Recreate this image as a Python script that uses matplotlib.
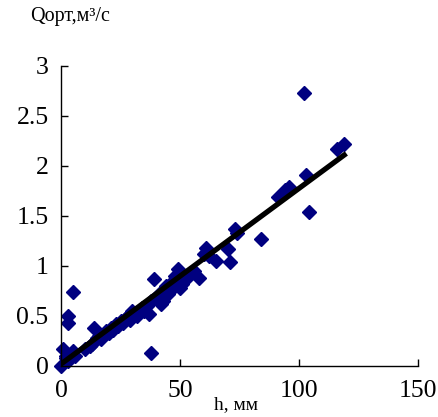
import matplotlib
matplotlib.use('Agg')
import matplotlib.pyplot as plt

# measured points: h (mm) vs Q (m3/s)
h_mm = [0, 1, 2, 2, 3, 4, 5, 6, 3, 3, 5,
        10, 12, 13, 14, 15, 16, 17, 18, 19, 20, 21, 22, 23, 24, 25, 26, 27,
        28, 29, 30, 31, 32, 33, 34, 35, 36, 37, 38, 38, 39, 40, 41, 42, 43,
        44, 45, 46, 47, 48, 49, 50, 51, 53, 56, 58, 60, 61, 62, 65, 70, 71,
        73, 74, 84, 91, 94, 96, 102, 103, 104, 116, 119]
q_m3s = [0.0, 0.17, 0.10, 0.08, 0.05, 0.12, 0.15, 0.10, 0.43, 0.50, 0.74,
         0.17, 0.20, 0.22, 0.38, 0.28, 0.30, 0.27, 0.32, 0.35, 0.33, 0.38,
         0.36, 0.42, 0.40, 0.45, 0.43, 0.47, 0.50, 0.46, 0.55, 0.52, 0.50,
         0.56, 0.58, 0.55, 0.60, 0.52, 0.13, 0.65, 0.87, 0.68, 0.72, 0.62,
         0.65, 0.80, 0.72, 0.75, 0.85, 0.90, 0.97, 0.78, 0.82, 0.88, 0.95,
         0.88, 1.12, 1.18, 1.10, 1.05, 1.17, 1.04, 1.37, 1.33, 1.27, 1.69,
         1.76, 1.79, 2.73, 1.91, 1.54, 2.17, 2.22]

# linear trend line end points
trend_h = [0, 119]
trend_q = [0.02, 2.11]

x_ticks = [0, 50, 100, 150]
y_ticks = [0, 0.5, 1, 1.5, 2, 2.5, 3]
y_labels = ['0', '0.5', '1', '1.5', '2', '2.5', '3']

plt.rcParams['font.family'] = ['Liberation Serif', 'DejaVu Serif']

fig = plt.figure(figsize=(4.38, 4.17), dpi=100)
ax = fig.add_axes([61 / 438, 51 / 417, 357 / 438, 300 / 417])

ax.plot(h_mm, q_m3s, linestyle='none', marker='D', markersize=7.3,
        color='#000080', markeredgecolor='#000080', clip_on=False, zorder=2)
ax.plot(trend_h, trend_q, color='black', linewidth=3.8, zorder=3)

ax.set_xlim(0, 150)
ax.set_ylim(0, 3)
ax.set_xticks(x_ticks)
ax.set_yticks(y_ticks)
ax.set_yticklabels(y_labels)

for s in ['top', 'right']:
    ax.spines[s].set_visible(False)
for s in ['left', 'bottom']:
    ax.spines[s].set_linewidth(1.0)
ax.tick_params(direction='in', length=5, width=1.0, labelsize=18.5)
ax.tick_params(axis='x', pad=10)
ax.tick_params(axis='y', pad=9)

fig.text(236 / 438, 1 - 405 / 417, 'h, мм', fontsize=14,
         ha='center', va='center')
fig.text(30 / 438, 1 - 16 / 417, 'Qорт,м³/с', fontsize=14.5,
         ha='left', va='center')

fig.savefig('out.png', dpi=100)
